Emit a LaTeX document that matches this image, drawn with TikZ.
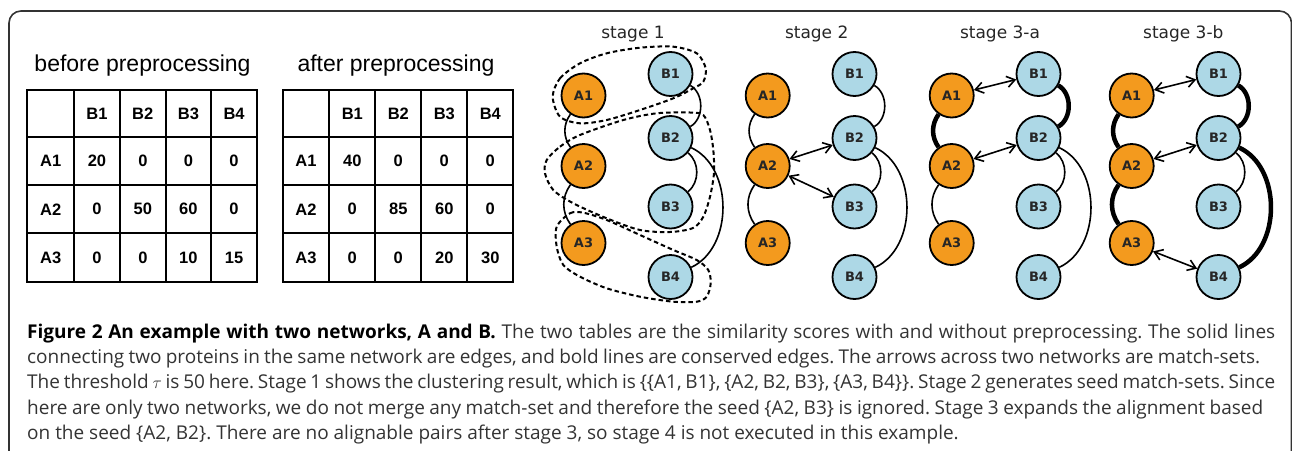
\documentclass[tikz,border=0pt]{standalone}
\usepackage{fontspec}
\setmainfont{Open Sans}
\newfontfamily\arialf{Liberation Sans}
\newfontfamily\dejaf{DejaVu Sans}
\usetikzlibrary{arrows.meta}
\definecolor{aorange}{HTML}{F39A1E}
\definecolor{bblue}{HTML}{ADD8E6}
\definecolor{captxt}{HTML}{333333}
\frenchspacing
\begin{document}
\begin{tikzpicture}[x=1pt,y=1pt,
  anode/.style={circle,draw=black,line width=1.8pt,fill=aorange,minimum size=44pt,inner sep=0pt,
    font=\dejaf\bfseries\fontsize{13}{15}\selectfont,text=black!85},
  bnode/.style={anode,fill=bblue},
  thinedge/.style={line width=1.6pt},
  consedge/.style={line width=4.5pt},
  matchset/.style={line width=1.6pt,{Straight Barb[length=8pt,width=11pt]}-{Straight Barb[length=8pt,width=11pt]}},
  clus/.style={line width=2pt,dash pattern=on 4.5pt off 3pt},
  stagelbl/.style={anchor=base,font=\dejaf\fontsize{17}{20}\selectfont,text=black!85,inner sep=0pt},
  tbltitle/.style={anchor=base,font=\arialf\fontsize{23}{26}\selectfont,inner sep=0pt},
  tcell/.style={font=\arialf\bfseries\fontsize{16.5}{18}\selectfont,inner sep=0pt},
  tline/.style={line width=2.2pt},
  captext/.style={anchor=base west,inner sep=0pt,font=\fontsize{19}{22}\selectfont,text=captxt},
  borderframe/.style={line width=1.6pt,draw=black!80,rounded corners=12pt}
]
\useasboundingbox (0,0) rectangle (1292,-450);
\draw[borderframe] (9,-470) -- (9,-11) -- (1291.5,-11) -- (1291.5,-470);

% ---------- tables ----------
\node[tbltitle] (title1) at (142.5,-71.7) {before preprocessing};
\node[tbltitle] (title2) at (396,-71.7) {after preprocessing};

\draw[tline] (27.3,-90) rectangle (257,-282);
\foreach \x in {74,120,165.7,211} \draw[tline] (\x,-90) -- (\x,-282);
\foreach \y in {137.3,185.3,233.3} \draw[tline] (27.3,-\y) -- (257,-\y);

\draw[tline] (282.7,-90) rectangle (513.3,-282);
\foreach \x in {329.3,375.3,421.3,467.3} \draw[tline] (\x,-90) -- (\x,-282);
\foreach \y in {137.3,185.3,233.3} \draw[tline] (282.7,-\y) -- (513.3,-\y);

% table 1 cells
\foreach \t [count=\i] in {B1,B2,B3,B4}
  \node[tcell] (ta0\i) at ({97+(\i-1)*45.7},-113.7) {\t};
\foreach \r/\y/\l/\a/\b/\c/\d in {1/161.3/A1/20/0/0/0, 2/209.3/A2/0/50/60/0, 3/257.7/A3/0/0/10/15}{
  \node[tcell] (ta\r0) at (50.7,-\y) {\l};
  \node[tcell] (ta\r1) at (97,-\y) {\a};
  \node[tcell] (ta\r2) at (142.9,-\y) {\b};
  \node[tcell] (ta\r3) at (188.4,-\y) {\c};
  \node[tcell] (ta\r4) at (234,-\y) {\d};
}
% table 2 cells
\foreach \t [count=\i] in {B1,B2,B3,B4}
  \node[tcell] (tb0\i) at ({352.3+(\i-1)*46},-113.7) {\t};
\foreach \r/\y/\l/\a/\b/\c/\d in {1/161.3/A1/40/0/0/0, 2/209.3/A2/0/85/60/0, 3/257.7/A3/0/0/20/30}{
  \node[tcell] (tb\r0) at (306,-\y) {\l};
  \node[tcell] (tb\r1) at (352.3,-\y) {\a};
  \node[tcell] (tb\r2) at (398.3,-\y) {\b};
  \node[tcell] (tb\r3) at (444.3,-\y) {\c};
  \node[tcell] (tb\r4) at (490.3,-\y) {\d};
}

% ---------- stage 1 clusters ----------
\draw[clus] plot[smooth cycle] coordinates {(552.7,-96.7) (560,-78.3) (580,-63.3) (606.7,-53.3) (640,-47.7) (673.3,-46.7) (696.7,-53.3) (705.7,-68.3) (703.3,-81.7) (693.3,-88.3) (673.3,-98.3) (640,-110) (606.7,-120) (580,-123.3) (560,-116.7)};
\draw[clus] plot[smooth cycle] coordinates {(546.7,-160) (560,-146.7) (580,-135) (623.3,-120) (656.7,-113.3) (690,-112.5) (703.3,-115) (710,-130) (713.3,-150) (714,-173) (710,-196.7) (703.3,-216.7) (693,-228) (670,-232) (640,-230) (606.7,-218.3) (573.3,-203.3) (553.3,-190) (545,-173.3)};
\draw[clus] plot[smooth cycle] coordinates {(556.7,-226.7) (570,-213.3) (583.3,-212.7) (606.7,-220) (640,-235) (673.3,-250) (696.7,-260) (708.3,-270) (710.7,-283.3) (706.7,-296.7) (696.7,-301.7) (673.3,-301.7) (640,-296.7) (606.7,-288.3) (580,-276.7) (563.3,-265) (556.7,-246.7)};

% ---------- nodes ----------
\foreach \p/\ax/\bx/\sx/\st in {1/583.5/670.5/633/stage 1, 2/767.7/854.5/816.7/stage 2, 3/951.7/1038.5/1000/stage 3-a, 4/1131.7/1218.5/1183.3/stage 3-b}{
  \node[stagelbl] (lbl\p) at (\sx,-38) {\st};
  \node[anode] (p\p A1) at (\ax,-95.5) {A1};
  \node[anode] (p\p A2) at (\ax,-166) {A2};
  \node[anode] (p\p A3) at (\ax,-243) {A3};
  \node[bnode] (p\p B1) at (\bx,-74) {B1};
  \node[bnode] (p\p B2) at (\bx,-138) {B2};
  \node[bnode] (p\p B3) at (\bx,-206.5) {B3};
  \node[bnode] (p\p B4) at (\bx,-277) {B4};
}

% ---------- edges ----------
\foreach \p in {1,2}{
  \draw[thinedge] (p\p A1) to[out=235,in=125] (p\p A2);
  \draw[thinedge] (p\p A2) to[out=235,in=125] (p\p A3);
  \draw[thinedge] (p\p B1) to[out=-30,in=30] (p\p B2);
}
\foreach \p in {1,2,3}{
  \draw[thinedge] (p\p B2) to[out=-25,in=25] (p\p B4);
}
\foreach \p in {1,2,3,4}{
  \draw[thinedge] (p\p B2) to[out=-40,in=40] (p\p B3);
}
\draw[thinedge] (p3A2) to[out=235,in=125] (p3A3);
\foreach \p in {3,4}{
  \draw[consedge] (p\p A1) to[out=235,in=125] (p\p A2);
  \draw[consedge] (p\p B1) to[out=-30,in=30] (p\p B2);
}
\draw[consedge] (p4A2) to[out=235,in=125] (p4A3);
\draw[consedge] (p4B2) to[out=-25,in=25] (p4B4);

% ---------- match-sets ----------
\draw[matchset] (p2A2) -- (p2B2);
\draw[matchset] (p2A2) -- (p2B3);
\draw[matchset] (p3A1) -- (p3B1);
\draw[matchset] (p3A2) -- (p3B2);
\draw[matchset] (p4A1) -- (p4B1);
\draw[matchset] (p4A2) -- (p4B2);
\draw[matchset] (p4A3) -- (p4B4);

% ---------- caption ----------
\node[captext] (cap1) at (27,-338.5) {\makebox[1248pt][s]{\textcolor{black}{\textbf{Figure 2 An example with two networks, A and B.}} The two tables are the similarity scores with and without preprocessing. The solid lines}};
\node[captext] (cap2) at (27,-363.7) {\makebox[1233pt][s]{connecting two proteins in the same network are edges, and bold lines are conserved edges. The arrows across two networks are match-sets.}};
\node[captext] (cap3) at (27,-388.9) {\makebox[1248pt][s]{The threshold $\tau$ is 50 here. Stage 1 shows the clustering result, which is \{\{A1, B1\}, \{A2, B2, B3\}, \{A3, B4\}\}. Stage 2 generates seed match-sets. Since}};
\node[captext] (cap4) at (27,-414.1) {\makebox[1236pt][s]{here are only two networks, we do not merge any match-set and therefore the seed \{A2, B3\} is ignored. Stage 3 expands the alignment based}};
\node[captext] (cap5) at (27,-439.3) {on the seed \{A2, B2\}. There are no alignable pairs after stage 3, so stage 4 is not executed in this example.};
\end{tikzpicture}
\end{document}
